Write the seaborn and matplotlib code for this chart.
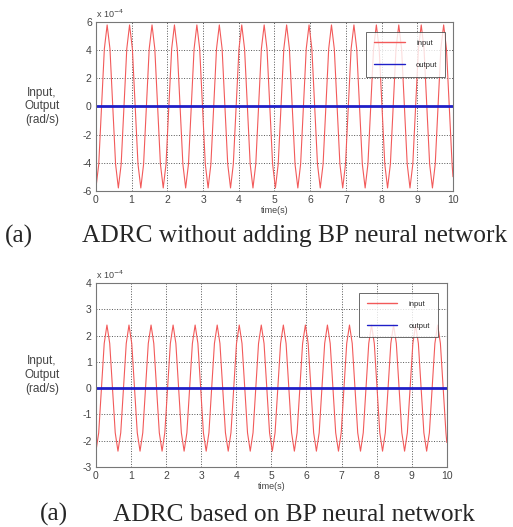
import matplotlib
matplotlib.use("Agg")
import matplotlib.pyplot as plt
import seaborn as sns

time_s = [
    0.000, 0.079, 0.157, 0.236, 0.314, 0.393, 0.471, 0.550,
    0.628, 0.707, 0.785, 0.864, 0.942, 1.021, 1.100, 1.178,
    1.257, 1.335, 1.414, 1.492, 1.571, 1.649, 1.728, 1.806,
    1.885, 1.963, 2.042, 2.121, 2.199, 2.278, 2.356, 2.435,
    2.513, 2.592, 2.670, 2.749, 2.827, 2.906, 2.985, 3.063,
    3.142, 3.220, 3.299, 3.377, 3.456, 3.534, 3.613, 3.691,
    3.770, 3.848, 3.927, 4.006, 4.084, 4.163, 4.241, 4.320,
    4.398, 4.477, 4.555, 4.634, 4.712, 4.791, 4.869, 4.948,
    5.027, 5.105, 5.184, 5.262, 5.341, 5.419, 5.498, 5.576,
    5.655, 5.733, 5.812, 5.890, 5.969, 6.048, 6.126, 6.205,
    6.283, 6.362, 6.440, 6.519, 6.597, 6.676, 6.754, 6.833,
    6.912, 6.990, 7.069, 7.147, 7.226, 7.304, 7.383, 7.461,
    7.540, 7.618, 7.697, 7.775, 7.854, 7.933, 8.011, 8.090,
    8.168, 8.247, 8.325, 8.404, 8.482, 8.561, 8.639, 8.718,
    8.796, 8.875, 8.954, 9.032, 9.111, 9.189, 9.268, 9.346,
    9.425, 9.503, 9.582, 9.660, 9.739, 9.817, 9.896, 9.975,
    10.0,
]

input_a = [
    -5.8, -4.1, 0.0, 4.1, 5.8, 4.1, 0.0, -4.1,
    -5.8, -4.1, 0.0, 4.1, 5.8, 4.1, 0.0, -4.1,
    -5.8, -4.1, 0.0, 4.1, 5.8, 4.1, 0.0, -4.1,
    -5.8, -4.1, 0.0, 4.1, 5.8, 4.1, 0.0, -4.1,
    -5.8, -4.1, 0.0, 4.1, 5.8, 4.1, 0.0, -4.1,
    -5.8, -4.1, 0.0, 4.1, 5.8, 4.1, 0.0, -4.1,
    -5.8, -4.1, 0.0, 4.1, 5.8, 4.1, 0.0, -4.1,
    -5.8, -4.1, 0.0, 4.1, 5.8, 4.1, 0.0, -4.1,
    -5.8, -4.1, 0.0, 4.1, 5.8, 4.1, 0.0, -4.1,
    -5.8, -4.1, 0.0, 4.1, 5.8, 4.1, 0.0, -4.1,
    -5.8, -4.1, 0.0, 4.1, 5.8, 4.1, 0.0, -4.1,
    -5.8, -4.1, 0.0, 4.1, 5.8, 4.1, 0.0, -4.1,
    -5.8, -4.1, 0.0, 4.1, 5.8, 4.1, 0.0, -4.1,
    -5.8, -4.1, 0.0, 4.1, 5.8, 4.1, 0.0, -4.1,
    -5.8, -4.1, 0.0, 4.1, 5.8, 4.1, 0.0, -4.1,
    -5.8, -4.1, 0.0, 4.1, 5.8, 4.1, 0.0, -4.1,
    -5.0,
]

input_b = [
    -2.4, -1.7, 0.0, 1.7, 2.4, 1.7, 0.0, -1.7,
    -2.4, -1.7, 0.0, 1.7, 2.4, 1.7, 0.0, -1.7,
    -2.4, -1.7, 0.0, 1.7, 2.4, 1.7, 0.0, -1.7,
    -2.4, -1.7, 0.0, 1.7, 2.4, 1.7, 0.0, -1.7,
    -2.4, -1.7, 0.0, 1.7, 2.4, 1.7, 0.0, -1.7,
    -2.4, -1.7, 0.0, 1.7, 2.4, 1.7, 0.0, -1.7,
    -2.4, -1.7, 0.0, 1.7, 2.4, 1.7, 0.0, -1.7,
    -2.4, -1.7, 0.0, 1.7, 2.4, 1.7, 0.0, -1.7,
    -2.4, -1.7, 0.0, 1.7, 2.4, 1.7, 0.0, -1.7,
    -2.4, -1.7, 0.0, 1.7, 2.4, 1.7, 0.0, -1.7,
    -2.4, -1.7, 0.0, 1.7, 2.4, 1.7, 0.0, -1.7,
    -2.4, -1.7, 0.0, 1.7, 2.4, 1.7, 0.0, -1.7,
    -2.4, -1.7, 0.0, 1.7, 2.4, 1.7, 0.0, -1.7,
    -2.4, -1.7, 0.0, 1.7, 2.4, 1.7, 0.0, -1.7,
    -2.4, -1.7, 0.0, 1.7, 2.4, 1.7, 0.0, -1.7,
    -2.4, -1.7, 0.0, 1.7, 2.4, 1.7, 0.0, -1.7,
    -2.07,
]

# output stays flat at zero over the whole run
output_t = [0.0, 10.0]
output_v = [0.0, 0.0]

xticks = [0, 1, 2, 3, 4, 5, 6, 7, 8, 9, 10]
yticks_a = [-6, -4, -2, 0, 2, 4, 6]
yticks_b = [-3, -2, -1, 0, 1, 2, 3, 4]

caption_a = "ADRC without adding BP neural network"
caption_b = "ADRC based on BP neural network"

sns.set_style("white")
plt.rcParams["font.family"] = ["Liberation Sans", "DejaVu Sans"]
plt.rcParams["axes.unicode_minus"] = False

fig = plt.figure(figsize=(5.13, 5.27), dpi=100)
ax1 = fig.add_axes([0.187, 0.638, 0.696, 0.320])
ax2 = fig.add_axes([0.187, 0.114, 0.684, 0.349])


def draw_panel(ax, y_in, yticks, leg_anchor):
    sns.lineplot(x=time_s, y=y_in, color="#f25a5a", linewidth=0.8,
                 label="input", ax=ax, sort=False, estimator=None)
    sns.lineplot(x=output_t, y=output_v, color="#1f1fc8", linewidth=2.0,
                 label="output", ax=ax, sort=False, estimator=None)
    ax.set_xlim(0, 10)
    ax.set_ylim(yticks[0], yticks[-1])
    ax.set_xticks(xticks)
    ax.set_yticks(yticks)
    ax.tick_params(labelsize=7.5, colors="#444444", length=2, direction="in",
                   pad=3)
    ax.grid(True, linestyle=":", color="#555555", linewidth=0.7)
    for s in ax.spines.values():
        s.set_color("#777777")
        s.set_linewidth(0.8)
    ax.set_xlabel("time(s)", fontsize=6.5, color="#444444", labelpad=1)
    ax.set_ylabel("Input,\nOutput\n(rad/s)", fontsize=8.5, color="#444444",
                  rotation=0, va="center", ha="center", labelpad=29)
    ax.text(0.0, 1.01, r"x 10$^{-4}$", transform=ax.transAxes,
            fontsize=6.5, color="#444444", ha="left", va="bottom")
    leg = ax.legend(loc="upper right", bbox_to_anchor=leg_anchor,
                    fontsize=5.5, frameon=True, fancybox=False,
                    handlelength=4, labelspacing=1.9, borderpad=1.0,
                    handletextpad=1.5)
    leg.get_frame().set_edgecolor("#444444")
    leg.get_frame().set_linewidth(0.7)
    for h in leg.get_lines():
        h.set_linewidth(1.0)


draw_panel(ax1, input_a, yticks_a, (0.989, 0.964))
draw_panel(ax2, input_b, yticks_b, (0.986, 0.967))

fig.text(0.010, 0.540, "(a)", fontsize=18.3, family="Liberation Serif")
fig.text(0.160, 0.540, caption_a, fontsize=18.3, family="Liberation Serif")
fig.text(0.078, 0.012, "(a)", fontsize=18.3, family="Liberation Serif")
fig.text(0.220, 0.012, caption_b, fontsize=18.3, family="Liberation Serif")

fig.savefig("out.png", dpi=100)
